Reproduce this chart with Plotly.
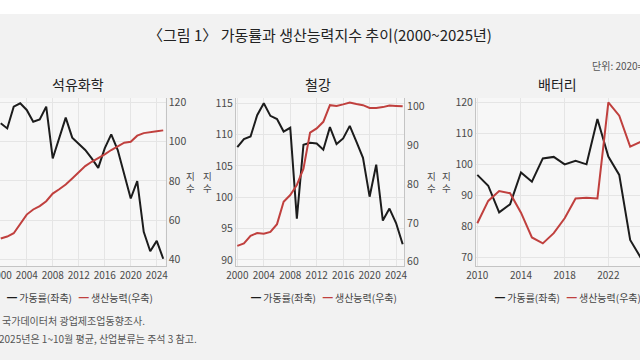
import plotly.graph_objects as go

# ---------------- data ----------------
years_long = list(range(2000, 2026))
years_batt = list(range(2010, 2026))
x_ticks_long = [2000, 2004, 2008, 2012, 2016, 2020, 2024]
x_ticks_batt = [2010, 2014, 2018, 2022]

petro_util = [109.3, 106.7, 117.8, 119.5, 116.1, 110.1, 111.3, 117.8, 91.4, 101.6,
              112.2, 102.0, 99.1, 95.7, 91.4, 86.6, 96.5, 103.7, 95.7, 83.7,
              71.0, 79.8, 54.0, 44.1, 49.4, 40.3]
petro_cap = [50.6, 51.6, 53.3, 58.2, 62.8, 65.4, 67.1, 69.6, 73.5, 75.7,
             78.1, 81.2, 84.3, 87.5, 89.7, 91.4, 93.5, 95.7, 97.7, 99.4,
             99.9, 103.0, 104.3, 104.9, 105.2, 105.7]

steel_util = [108.0, 109.3, 109.7, 113.1, 115.0, 113.0, 112.5, 110.5, 111.1, 96.6,
              108.4, 108.7, 108.6, 107.6, 111.2, 108.5, 109.4, 111.4, 108.9, 106.3,
              100.1, 105.2, 96.3, 98.2, 95.9, 92.5]
steel_cap = [64.1, 64.7, 66.7, 67.4, 67.2, 67.7, 69.7, 75.5, 77.2, 79.8,
             84.0, 93.3, 94.4, 96.1, 100.4, 100.2, 100.6, 101.1, 100.7, 100.4,
             99.7, 99.7, 99.9, 100.3, 100.2, 100.1]

batt_util = [96.6, 93.1, 84.5, 87.1, 97.4, 94.4, 101.9, 102.4, 100.0, 101.1,
             100.0, 114.6, 102.5, 96.6, 75.6, 69.7]
batt_cap = [81.0, 88.2, 91.4, 90.7, 84.4, 76.4, 74.5, 77.8, 82.6, 89.0,
            89.2, 89.0, 120.0, 115.7, 105.7, 107.3]

petro_right_ticks = [40, 60, 80, 100, 120]
steel_left_ticks = [90, 95, 100, 105, 110, 115]
steel_right_ticks = [60, 70, 80, 90, 100]
batt_left_ticks = [70, 80, 90, 100, 110, 120]

title_text = "〈그림 1〉 가동률과 생산능력지수 추이(2000~2025년)"
panel_titles = ["석유화학", "철강", "배터리"]
unit_text = "단위: 2020=100"
axis_label = "지<br>수"
util_name = "가동률(좌축)"
cap_name = "생산능력(우축)"
note1 = "국가데이터처 광업제조업동향조사."
note2 = "2025년은 1~10월 평균, 산업분류는 주석 3 참고."

# ---------------- styling ----------------
W, H = 640, 360
BG = "#f2f2f2"
PLOT_BG = "#f7f7f7"
GRID = "#e5e5e5"
AXLINE = "#c4c4c4"
BLACK = "#1c1c1c"
RED = "#c0403e"
TICK = "#4a4a4a"
FONT = "Noto Sans CJK KR"


def px(x):
    return x / W


def py(y):
    return 1 - y / H


ydom = [py(266), py(98)]

fig = go.Figure()

fig.add_trace(go.Scatter(x=years_long, y=petro_util, xaxis="x", yaxis="y",
                         mode="lines", line=dict(color=BLACK, width=2), name=util_name))
fig.add_trace(go.Scatter(x=years_long, y=petro_cap, xaxis="x", yaxis="y2",
                         mode="lines", line=dict(color=RED, width=2), name=cap_name))
fig.add_trace(go.Scatter(x=years_long, y=steel_util, xaxis="x2", yaxis="y3",
                         mode="lines", line=dict(color=BLACK, width=2), name=util_name))
fig.add_trace(go.Scatter(x=years_long, y=steel_cap, xaxis="x2", yaxis="y4",
                         mode="lines", line=dict(color=RED, width=2), name=cap_name))
fig.add_trace(go.Scatter(x=years_batt, y=batt_util, xaxis="x3", yaxis="y5",
                         mode="lines", line=dict(color=BLACK, width=2), name=util_name))
fig.add_trace(go.Scatter(x=years_batt, y=batt_cap, xaxis="x3", yaxis="y6",
                         mode="lines", line=dict(color=RED, width=2), name=cap_name))

common_x = dict(showgrid=True, gridcolor=GRID, gridwidth=1, showline=True,
                linecolor=AXLINE, linewidth=1, zeroline=False, ticks="",
                tickfont=dict(size=10, color=TICK, family=FONT),
                automargin=False, ticklabeloverflow="allow", fixedrange=True)
common_y = dict(showline=True, linecolor=AXLINE, linewidth=1, zeroline=False,
                ticks="", tickfont=dict(size=10.5, color=TICK, family=FONT),
                automargin=False, ticklabeloverflow="allow", fixedrange=True)

fig.update_layout(
    xaxis=dict(domain=[px(0), px(165.7)], range=[1999.89, 2025.38], anchor="y",
               tickvals=x_ticks_long, **common_x),
    yaxis=dict(domain=ydom, range=[36.6, 122.2], anchor="x", visible=False),
    yaxis2=dict(overlaying="y", side="right", anchor="x", range=[36.6, 122.2],
                tickvals=petro_right_ticks, showgrid=True, gridcolor=GRID, **common_y),
    xaxis2=dict(domain=[px(236), px(404)], range=[1999.8, 2025.2], anchor="y3",
                tickvals=x_ticks_long, **common_x),
    yaxis3=dict(domain=ydom, range=[89.04, 115.85], anchor="x2",
                tickvals=steel_left_ticks, showgrid=True, gridcolor=GRID, **common_y),
    yaxis4=dict(overlaying="y3", side="right", anchor="x2", range=[58.9, 102.25],
                tickvals=steel_right_ticks, showgrid=False, **common_y),
    xaxis3=dict(domain=[px(476), 1.0], range=[2009.88, 2024.9], anchor="y5",
                tickvals=x_ticks_batt, **common_x),
    yaxis5=dict(domain=ydom, range=[67.2, 121.4], anchor="x3",
                tickvals=batt_left_ticks, showgrid=True, gridcolor=GRID, **common_y),
    yaxis6=dict(overlaying="y5", side="right", anchor="x3", range=[67.2, 121.4],
                visible=False),
)

ann = []


def add_text(x, y, text, size, color, xanchor="center", pad=1):
    ann.append(dict(x=px(x), y=py(y), xref="paper", yref="paper", text=text,
                    showarrow=False, xanchor=xanchor, yanchor="middle", borderpad=pad,
                    font=dict(size=size, color=color, family=FONT)))


add_text(320, 34, title_text, 15, "#222222")
add_text(590, 65, unit_text, 10, "#555555", "left")
for cx, t in zip([78, 317.5, 557], panel_titles):
    add_text(cx, 84, t, 14, "#222222")
for ax_x in [190, 207.5, 431, 446.5]:
    add_text(ax_x, 182, axis_label, 9.5, TICK, pad=0)
legend_text = (f"<span style='color:{BLACK}'>━</span> {util_name}\u00a0\u00a0\u00a0"
               f"<span style='color:{RED}'>━</span> {cap_name}")
for cx in [80, 324, 568]:
    add_text(cx, 297, legend_text, 10, "#444444")
add_text(0, 320, note1, 10, "#555555", "left")
add_text(-3, 338, note2, 10, "#555555", "left")

fig.update_layout(
    width=W, height=H,
    margin=dict(l=0, r=0, t=0, b=0),
    paper_bgcolor=BG, plot_bgcolor=PLOT_BG,
    showlegend=False,
    hovermode=False,
    font=dict(family=FONT),
    annotations=ann,
    shapes=[dict(type="rect", xref="paper", yref="paper", x0=0, x1=1,
                 y0=py(14), y1=1, fillcolor="white", line=dict(width=0),
                 layer="below")],
)

fig.write_html("out.html", config={"displayModeBar": False},
               post_script="document.body.style.margin='0px';")
